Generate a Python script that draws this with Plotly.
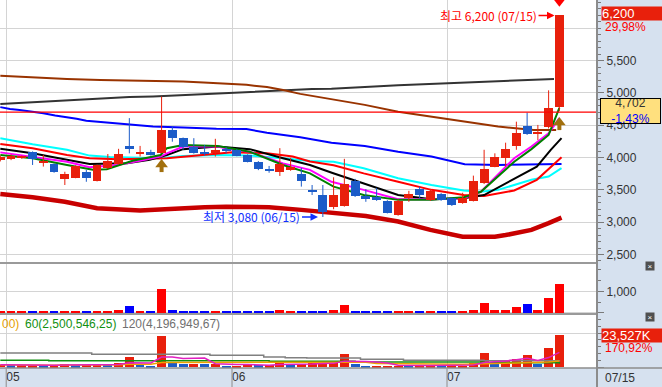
import plotly.graph_objects as go

# ---------------- data ----------------
dates = ["04/29",
         "05/02", "05/03", "05/04", "05/06", "05/09", "05/10", "05/11", "05/12", "05/13",
         "05/16", "05/17", "05/18", "05/19", "05/20", "05/23", "05/24", "05/25", "05/26", "05/27",
         "05/30", "05/31",
         "06/02", "06/03", "06/07", "06/08", "06/09", "06/10", "06/13", "06/14", "06/15", "06/16",
         "06/17", "06/20", "06/21", "06/22", "06/23", "06/24", "06/27", "06/28", "06/29", "06/30",
         "07/01", "07/04", "07/05", "07/06", "07/07", "07/08", "07/11", "07/12", "07/13", "07/14",
         "07/15"]

opens = [3955, 3980, 3995, 4080, 3925, 3900, 3670, 3690, 3780, 3640,
         3835, 3900, 4180, 4065, 4090, 4075, 4425, 4300, 4170, 4090,
         4075, 4130, 4120, 4040, 3935, 3820, 3780, 3820, 3745, 3500,
         3420, 3230, 3255, 3640, 3405, 3385, 3330, 3110, 3370, 3510,
         3345, 3435, 3370, 3295, 3335, 3600, 3860, 4000, 4185, 4495,
         4365, 4470, 4780]
highs = [4030, 4050, 4030, 4095, 4040, 3910, 3780, 3880, 3810, 3890,
         4055, 4135, 4610, 4180, 4120, 4945, 4480, 4310, 4300, 4195,
         4290, 4160, 4130, 4050, 3945, 3870, 4145, 3995, 3840, 3575,
         3575, 3695, 3980, 3670, 3510, 3530, 3340, 3350, 3485, 3550,
         3515, 3450, 3380, 3455, 3720, 4120, 4065, 4230, 4555, 4695,
         4505, 5040, 6200]
lows = [3940, 3960, 3980, 3885, 3860, 3765, 3575, 3680, 3625, 3630,
        3820, 3890, 4065, 4015, 4030, 4070, 4245, 4120, 4060, 4030,
        4015, 4065, 4020, 3925, 3805, 3765, 3715, 3795, 3550, 3420,
        3080, 3200, 3240, 3390, 3315, 3330, 3135, 3100, 3315, 3370,
        3330, 3330, 3250, 3285, 3320, 3590, 3850, 3860, 4120, 4350,
        4270, 4450, 4720]
closes = [4010, 4025, 4010, 3975, 3945, 3780, 3745, 3870, 3690, 3880,
          3945, 4055, 4135, 4090, 4040, 4425, 4300, 4160, 4065, 4065,
          4120, 4095, 4030, 3935, 3825, 3795, 3900, 3850, 3640, 3470,
          3165, 3420, 3590, 3405, 3355, 3355, 3145, 3330, 3435, 3420,
          3475, 3345, 3265, 3370, 3640, 3825, 4005, 4135, 4375, 4360,
          4375, 4770, 6200]

# trading value (억원)
value_eok = [70, 55, 55, 55, 45, 45, 95, 55, 60, 95,
             60, 110, 330, 95, 45, 1120, 140, 95, 95, 95,
             95, 45, 45, 95, 45, 45, 125, 45, 95, 95,
             95, 140, 375, 95, 35, 35, 35, 35, 35, 35,
             35, 35, 35, 35, 140, 470, 140, 140, 280, 420,
             140, 700, 1355]
# volume (천주)
volume_k = [1600, 1300, 1300, 1350, 1150, 1150, 2400, 1400, 1600, 2500,
            1500, 2700, 7600, 2300, 1100, 22800, 3200, 2300, 2350, 2300,
            2350, 1100, 1100, 2400, 1150, 1150, 3300, 1200, 2600, 2700,
            2800, 4200, 9400, 2600, 1050, 1080, 1100, 1120, 1050, 1070,
            1100, 1050, 1060, 1100, 3100, 10600, 3500, 4300, 5600, 8600,
            2500, 13765, 23527]

# moving-average lines (x = candle index, y = price)
ma5_x = [0, 3, 6.2, 8.6, 9.9, 12.3, 14.9, 15.5, 17, 20.2, 23.2, 26.3, 28.8, 31, 33.8, 37, 40.1, 43.1, 44.7, 46.3, 47.8, 49.4, 51, 52]
ma5_y = [4040, 3990, 3885, 3810, 3820, 3950, 4040, 4145, 4195, 4180, 4090, 3885, 3755, 3550, 3420, 3345, 3345, 3385, 3470, 3705, 3935, 4130, 4350, 4770]
ma10_x = [0, 3, 6.2, 8.3, 10.9, 13, 14.9, 15.5, 17, 20.2, 21.6, 23.2, 26.3, 28.8, 30.8, 33.8, 37, 40.1, 43.1, 44.7, 46.3, 47.8, 49.4, 51, 52]
ma10_y = [4080, 4015, 3935, 3850, 3885, 3950, 4015, 4065, 4170, 4170, 4120, 4090, 3910, 3810, 3625, 3500, 3355, 3355, 3370, 3470, 3730, 3990, 4170, 4375, 4610]
ma20_x = [0, 3, 6.2, 8.3, 11.8, 13.9, 15.5, 17, 20.2, 23.2, 26.3, 28.8, 30.9, 33.8, 37, 40.1, 43.1, 45, 47.8, 49.9, 51.2, 52.2]
ma20_y = [4135, 4065, 3965, 3900, 3910, 3965, 4040, 4130, 4170, 4130, 3990, 3885, 3760, 3600, 3420, 3355, 3370, 3420, 3665, 3860, 4120, 4300]
ma40_x = [0, 3, 6.2, 8.3, 10.9, 15.5, 21.6, 24.8, 27.2, 28.8, 31, 33.8, 37, 40.1, 43.1, 45, 47.8, 49.9, 52.2]
ma40_y = [4210, 4145, 4040, 3990, 3975, 3990, 4080, 4065, 4015, 3940, 3880, 3755, 3625, 3500, 3420, 3405, 3490, 3655, 4005]
ma50_x = [0, 3, 6.2, 8.3, 10.2, 14.9, 17, 20.2, 23.2, 26.3, 28.8, 31, 33.8, 37, 40.1, 43.1, 44.7, 46.3, 49.4, 51, 52.2]
ma50_y = [4300, 4205, 4120, 4030, 4010, 3990, 4025, 4040, 4030, 3990, 3945, 3935, 3835, 3680, 3575, 3490, 3470, 3500, 3655, 3705, 3835]
ma60_x = [0, 0.9, 1.8, 3.1, 4, 5.1, 6.2, 7.1, 8, 9.3, 11.1, 13, 14.2, 17, 20.1, 22.9, 24.8, 27.9, 30.8, 33.9, 37, 40.1, 43.2, 46.3, 49.4, 52.2]
ma60_y = [4780, 4750, 4735, 4710, 4685, 4650, 4625, 4600, 4570, 4550, 4530, 4495, 4480, 4465, 4445, 4440, 4385, 4315, 4230, 4180, 4090, 4015, 3895, 3885, 3895, 3900]
ma120_x = [0, 3.1, 6.2, 9.3, 13, 17, 18.9, 21.1, 22.9, 24.8, 26.3, 27.9, 30.8, 33.9, 37, 40.1, 43.2, 46.3, 49.6, 51.7]
ma120_y = [5265, 5235, 5215, 5200, 5190, 5175, 5160, 5145, 5125, 5090, 5045, 4985, 4900, 4815, 4710, 4635, 4555, 4480, 4425, 4425]
ma240_x = [0, 2.2, 4, 6.2, 8, 10.2, 12, 14.2, 16, 18.3, 21, 23, 25, 27, 29, 30.8, 32.3, 34.8, 37, 40.1, 43.2, 46.3, 48.7, 50, 51.5]
ma240_y = [4830, 4850, 4870, 4885, 4900, 4920, 4935, 4945, 4960, 4980, 5000, 5020, 5035, 5045, 5060, 5065, 5075, 5100, 5120, 5140, 5160, 5180, 5200, 5210, 5215]
low_band_x = [0, 3, 6, 9, 13, 15, 19, 21, 25, 28, 31, 34, 37, 40, 43, 46, 47, 49.4, 51, 52.2]
low_band_y = [3435, 3385, 3315, 3215, 3180, 3200, 3230, 3240, 3230, 3190, 3145, 3095, 3010, 2880, 2775, 2775, 2800, 2880, 2985, 3070]

# volume moving averages 60 / 120 (천주)
vma60_x = [0, 4.5, 14.5, 15, 25, 33, 45, 52]
vma60_y = [5000, 4700, 4300, 4700, 4300, 3700, 3200, 2500]
vma120_x = [0, 8.5, 19.5, 24.5, 26.5, 28.5, 33.5, 37.5, 45, 52]
vma120_y = [10300, 9340, 8600, 7350, 6840, 6620, 5660, 4930, 4600, 4200]

signal_idx = [15, 52]          # brown up arrows
ref_price = 4702               # horizontal red reference line

price_ticks = [2500, 3000, 3500, 4000, 4500, 5000, 5500, 6000]
price_ticktext = ["2,500", "3,000", "3,500", "4,000", "4,500", "5,000", "5,500", ""]
month_labels = ["05", "06", "07"]
month_first = ["05/02", "06/02", "07/01"]
legend_parts = ["00)", "60(2,500,546,25)", "120(4,196,949,67)"]

# ---------------- styles ----------------
UP = "#e8200c"
DN = "#1c5cc8"
GRID = "#d4d4d4"
BORDER = "#8c8c8c"
PANEL = "#d6e1ef"
LAT = "Liberation Sans, Arial, sans-serif"
CJK = "Noto Sans CJK KR"
PH = 368.0  # plot area height in px


def prow(px):
    return 1 - px / PH


def pcol(px):
    return px / 597.0


def sma(vals, k):
    out = []
    for i in range(len(vals)):
        w = vals[max(0, i - k + 1):i + 1]
        out.append(sum(w) / len(w))
    return out


n = len(dates)
xs = list(range(n))
is_up = [c >= o for o, c in zip(opens, closes)]
month_pos = [dates.index(d) - 0.45 for d in month_first]
PRANGE = [2368, 6438]
XRANGE = [-0.03, 55.5]

fig = go.Figure()

# price moving averages (under the candles)
ma_specs = [
    (low_band_x, low_band_y, "#c80000", 4.5),
    (ma240_x, ma240_y, "#333333", 2),
    (ma120_x, ma120_y, "#993300", 2),
    (ma60_x, ma60_y, "#0000ff", 2),
    (ma50_x, ma50_y, "#00ffff", 2),
    (ma40_x, ma40_y, "#ff0000", 2),
    (ma20_x, ma20_y, "#000000", 2),
    (ma10_x, ma10_y, "#ff00ff", 2),
    (ma5_x, ma5_y, "#008000", 2),
]
for mx, my, col, w in ma_specs:
    fig.add_trace(go.Scatter(x=mx, y=my, mode="lines", line=dict(color=col, width=w),
                             xaxis="x", yaxis="y", hoverinfo="skip"))

# candles on an overlay axis so they sit above the MA lines
for flag, col in ((True, UP), (False, DN)):
    wx, wy = [], []
    for i in xs:
        if is_up[i] == flag:
            wx += [i, i, None]
            wy += [lows[i], highs[i], None]
    fig.add_trace(go.Scatter(x=wx, y=wy, mode="lines", line=dict(color=col, width=1),
                             xaxis="x", yaxis="y4", hoverinfo="skip"))
fig.add_trace(go.Bar(x=xs, y=[max(abs(c - o), 20) for o, c in zip(opens, closes)],
                     base=[min(o, c) for o, c in zip(opens, closes)], width=0.82,
                     marker=dict(color=[UP if u else DN for u in is_up], line=dict(width=0)),
                     xaxis="x", yaxis="y4", hoverinfo="skip"))

# signal arrows
AR = "#a2700e"
sx, sy = [], []
for i in signal_idx:
    sx += [i, i, None]
    sy += [lows[i] - 190, lows[i] - 295, None]
fig.add_trace(go.Scatter(x=sx, y=sy, mode="lines", line=dict(color=AR, width=4),
                         xaxis="x", yaxis="y4", hoverinfo="skip"))
fig.add_trace(go.Scatter(x=signal_idx, y=[lows[i] - 178 for i in signal_idx], mode="markers",
                         marker=dict(symbol="triangle-up", size=11, color=AR),
                         xaxis="x", yaxis="y4", hoverinfo="skip"))
imax = highs.index(max(highs))
imin = lows.index(min(lows))
fig.add_trace(go.Scatter(x=[imax], y=[highs[imax] + 225], mode="markers",
                         marker=dict(symbol="triangle-down", size=12, color="#ff0000"),
                         xaxis="x", yaxis="y4", hoverinfo="skip"))

# trading value panel
fig.add_trace(go.Bar(x=xs, y=value_eok, width=0.82,
                     marker=dict(color=["#ff0000" if u else "#0000ff" for u in is_up], line=dict(width=0)),
                     xaxis="x2", yaxis="y2", hoverinfo="skip"))

# volume panel
vcol = [UP] + [UP if volume_k[i] >= volume_k[i - 1] else DN for i in range(1, n)]
fig.add_trace(go.Bar(x=xs, y=volume_k, width=0.82, marker=dict(color=vcol, line=dict(width=0)),
                     xaxis="x3", yaxis="y3", hoverinfo="skip"))
fig.add_trace(go.Scatter(x=vma120_x, y=vma120_y, mode="lines", line=dict(color="#808080", width=1.5, shape="hv"),
                         xaxis="x3", yaxis="y3", hoverinfo="skip"))
fig.add_trace(go.Scatter(x=vma60_x, y=vma60_y, mode="lines", line=dict(color="#119011", width=1.5, shape="hv"),
                         xaxis="x3", yaxis="y3", hoverinfo="skip"))
fig.add_trace(go.Scatter(x=xs, y=sma(volume_k, 20), mode="lines", line=dict(color="#f0a000", width=1.5),
                         xaxis="x3", yaxis="y3", hoverinfo="skip"))
fig.add_trace(go.Scatter(x=xs, y=sma(volume_k, 5), mode="lines", line=dict(color="#e020c0", width=1.5),
                         xaxis="x3", yaxis="y3", hoverinfo="skip"))

tick_common = dict(side="right", ticks="outside", ticklen=6, tickcolor="#7a7a7a", tickwidth=1,
                   showgrid=True, gridcolor=GRID, gridwidth=1, zeroline=False, showline=False,
                   tickfont=dict(family=LAT, size=12, color="#333333"), fixedrange=True)
xcommon = dict(range=XRANGE, tickmode="array", tickvals=month_pos, showgrid=True, gridcolor=GRID,
               gridwidth=1, zeroline=False, showline=False, ticks="", fixedrange=True)

fig.update_layout(
    width=662, height=387, autosize=False,
    margin=dict(l=0, r=65, t=0, b=19, pad=0),
    paper_bgcolor=PANEL, plot_bgcolor="#ffffff", showlegend=False, bargap=0,
    font=dict(family=LAT, size=12, color="#333333"),
    xaxis=dict(domain=[0, 1], anchor="y", showticklabels=False, **xcommon),
    xaxis2=dict(domain=[0, 1], anchor="y2", matches="x", showticklabels=False, **xcommon),
    xaxis3=dict(domain=[0, 1], anchor="y3", matches="x", showticklabels=True, ticktext=month_labels,
                ticklabelposition="outside right", tickfont=dict(family=LAT, size=12, color="#333333"),
                **xcommon),
    yaxis=dict(domain=[prow(263), 1], range=PRANGE, tickmode="array", tickvals=price_ticks,
               ticktext=price_ticktext,
               minor=dict(tickmode="array", tickvals=list(range(2400, 6500, 100)), ticks="outside",
                          ticklen=3, tickcolor="#7a7a7a", showgrid=False),
               **tick_common),
    yaxis4=dict(overlaying="y", range=PRANGE, visible=False, fixedrange=True),
    yaxis2=dict(domain=[prow(314), prow(263)], range=[-60, 2322], tickmode="array",
                tickvals=[0, 1000], ticktext=["", "1,000"],
                minor=dict(tickmode="array", tickvals=[500, 1500, 2000], ticks="outside", ticklen=3,
                           tickcolor="#7a7a7a", showgrid=False),
                **tick_common),
    yaxis3=dict(domain=[0, prow(314)], range=[-700, 38970], tickmode="array",
                tickvals=[0, 25000], ticktext=["", ""],
                minor=dict(tickmode="array", tickvals=[5000, 10000, 15000, 20000, 30000, 35000],
                           ticks="outside", ticklen=3, tickcolor="#7a7a7a", showgrid=False),
                **tick_common),
)

shapes = [
    dict(type="line", xref="paper", yref="y", x0=0, x1=1, y0=ref_price, y1=ref_price,
         line=dict(color="#ff0000", width=1.3), layer="above"),
    dict(type="line", xref="paper", yref="paper", x0=0, x1=1, y0=prow(263), y1=prow(263),
         line=dict(color="#9a9a9a", width=2)),
    dict(type="line", xref="paper", yref="paper", x0=0, x1=1, y0=prow(314), y1=prow(314),
         line=dict(color="#9a9a9a", width=2)),
    dict(type="line", xref="paper", yref="paper", x0=0, x1=662 / 597.0, y0=0, y1=0,
         line=dict(color=BORDER, width=1.5)),
    dict(type="line", xref="paper", yref="paper", x0=1, x1=1, y0=prow(387), y1=1,
         line=dict(color=BORDER, width=2)),
]
for mp in month_pos:
    shapes.append(dict(type="line", xref="x3", yref="paper", x0=mp, x1=mp, y0=0, y1=prow(387),
                       line=dict(color="#9a9a9a", width=1.2)))
fig.update_layout(shapes=shapes)

prev_close = closes[-2]
chg_pct = (closes[-1] / prev_close - 1) * 100
ref_pct = (ref_price / prev_close - 1) * 100
vol_pct = volume_k[-1] / volume_k[-2] * 100


def kfmt(v, d=2):
    return f"{v:.{d}f}".replace(".", ",")


ann = [
    dict(x=imax - 0.45, y=highs[imax], xref="x", yref="y", text=f"최고 {highs[imax]:,} ({dates[imax]})",
         showarrow=True, ax=-16, ay=0, arrowhead=2, arrowsize=1, arrowwidth=1.5, arrowcolor="#ff0000",
         xanchor="right", font=dict(family=CJK, size=12, color="#ff0000")),
    dict(x=imin - 0.45, y=lows[imin], xref="x", yref="y", text=f"최저 {lows[imin]:,} ({dates[imin]})",
         showarrow=True, ax=-16, ay=0, arrowhead=2, arrowsize=1, arrowwidth=1.5, arrowcolor="#1030ff",
         xanchor="right", font=dict(family=CJK, size=12, color="#1030ff")),
    # right panel labels
    dict(x=pcol(601), y=highs[imax], xref="paper", yref="y", yshift=2, text=f"{closes[-1]:,}",
         showarrow=False, xanchor="left", yanchor="middle", align="left", width=61, height=13,
         bgcolor=UP, borderpad=0, font=dict(family=LAT, size=13, color="#ffffff")),
    dict(x=pcol(603), y=highs[imax], xref="paper", yref="y", yshift=-12, text=f"{kfmt(chg_pct)}%",
         showarrow=False, xanchor="left", yanchor="middle", font=dict(family=LAT, size=12, color="#ff0000")),
    dict(x=pcol(600), y=ref_price, xref="paper", yref="y", yshift=1, showarrow=False, xanchor="left",
         yanchor="middle", align="center", width=59, height=24, bgcolor="#ffe07e", bordercolor="#000000",
         borderwidth=1, borderpad=0,
         text=f"{ref_price:,}<br><span style='color:#0000ff'>{kfmt(ref_pct)}%</span>",
         font=dict(family=LAT, size=12, color="#333333")),
    dict(x=pcol(601), y=volume_k[-1], xref="paper", yref="y3", text=f"{volume_k[-1]:,}K",
         showarrow=False, xanchor="left", yanchor="middle", align="left", width=61, height=13,
         bgcolor=UP, borderpad=0, font=dict(family=LAT, size=13, color="#ffffff")),
    dict(x=pcol(603), y=volume_k[-1], xref="paper", yref="y3", yshift=-13, text=f"{kfmt(vol_pct)}%",
         showarrow=False, xanchor="left", yanchor="middle", font=dict(family=LAT, size=12, color="#ff0000")),
    dict(x=pcol(603), y=prow(378), xref="paper", yref="paper", text=dates[-1], showarrow=False,
         xanchor="left", yanchor="middle", font=dict(family=LAT, size=12, color="#333333")),
    dict(x=pcol(655), y=prow(270.5), xref="paper", yref="paper", text="×", showarrow=False,
         bgcolor="#505050", borderpad=0, width=8, height=8, font=dict(family=LAT, size=8, color="#ffffff")),
    dict(x=pcol(655), y=prow(321.5), xref="paper", yref="paper", text="×", showarrow=False,
         bgcolor="#505050", borderpad=0, width=8, height=8, font=dict(family=LAT, size=8, color="#ffffff")),
]
legend_cols = ["#e8a000", "#119011", "#707070"]
legend_x = [0, 23, 120]
for txt, col, lx in zip(legend_parts, legend_cols, legend_x):
    ann.append(dict(x=pcol(lx), y=prow(324), xref="paper", yref="paper", text=txt, showarrow=False,
                    xanchor="left", yanchor="middle", font=dict(family=LAT, size=12, color=col)))
fig.update_layout(annotations=ann)

fig.write_html("out.html", config={"displayModeBar": False},
               post_script="document.body.style.margin='0';document.body.style.padding='0';"
                           "document.body.style.overflow='hidden';")
